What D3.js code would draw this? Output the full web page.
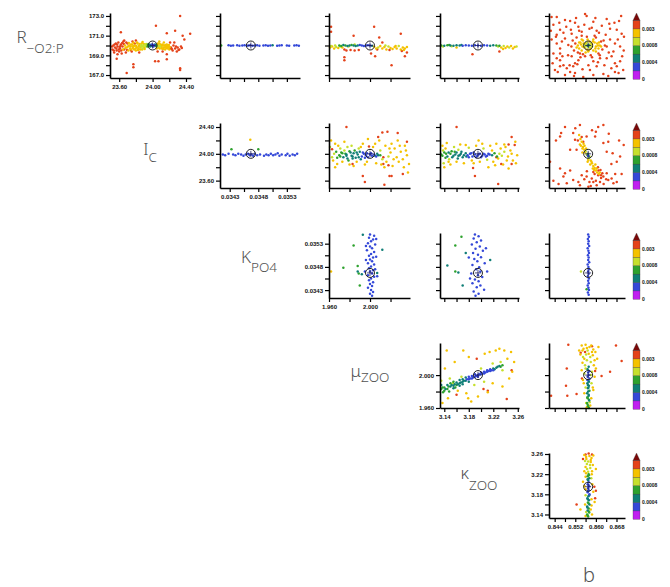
<!DOCTYPE html>
<html>
<head>
<meta charset="utf-8">
<script src="https://cdn.jsdelivr.net/npm/d3@7"></script>
<style>
  body { margin: 0; background: #fff; }
  .tick text { font-family: "Liberation Sans", Arial, sans-serif; font-size: 6px; font-weight: bold; fill: #111; }
  .rowlab { font-family: "Noto Sans", "DejaVu Sans", sans-serif; font-weight: 300; fill: #505050; opacity: 0.99; }
</style>
</head>
<body>
<div id="chart"></div>
<script>
// ---- axis ticks / labels per variable (R, Ic, KPO4, muZOO, kappaZOO, b)
var rTicks = [167, 168, 169, 170, 171, 172, 173];
var rLabels = [167, 169, 171, 173];
var icTicks = [23.6, 23.8, 24.0, 24.2, 24.4];
var icLabels = [23.6, 24.0, 24.4];
var kTicks = [0.0343, 0.03455, 0.0348, 0.03505, 0.0353];
var kLabels = [0.0343, 0.0348, 0.0353];
var muTicks = [1.96, 1.98, 2.00, 2.02];
var muLabels = [1.96, 2.00];
var kapTicks = [3.14, 3.16, 3.18, 3.20, 3.22, 3.24, 3.26];
var kapLabels = [3.14, 3.18, 3.22, 3.26];
var bTicks = [0.844, 0.848, 0.852, 0.856, 0.860, 0.864, 0.868];
var bLabels = [0.844, 0.852, 0.860, 0.868];

var varDomains = [[166.7, 173.3], [23.49, 24.46], [0.03413, 0.03553], [1.96, 2.039], [3.133, 3.262], [0.8418, 0.8713]];
var varFormats = [".1f", ".2f", ".4f", ".3f", ".2f", ".3f"];
var bestValues = [170.0, 24.00, 0.03467, 2.000, 3.195, 0.857];

var labelMain = ["R", "I", "K", "\u03bc", "\u03ba"];
var labelSub = ["\u2212O2:P", "C", "PO4", "ZOO", "ZOO"];
var bottomLabel = "b";

// colour bar classes
var cbThresholds = [0.0002, 0.0004, 0.0006, 0.0008, 0.0015, 0.003, 0.006];
var cbColors = ["#c01ff0", "#3448d8", "#0f7e76", "#2ea22e", "#c6e02c", "#f4c200", "#e4421a", "#7a0808"];
var cbTickValues = [0, 0.0004, 0.0008, 0.003];
var cbTickText = ["0", "0.0004", "0.0008", "0.003"];

// ---- scatter samples: [x, y, value]
// row 1: y = R
var rIc = [
 [23.52,169.6,.004],[23.53,170.0,.004],[23.54,169.3,.004],[23.55,169.8,.004],[23.56,170.2,.004],[23.57,169.5,.004],[23.58,169.9,.004],[23.59,170.3,.004],[23.60,169.4,.004],[23.61,169.7,.004],[23.62,170.1,.004],[23.63,169.2,.004],[23.64,169.9,.004],[23.65,170.4,.004],[23.66,169.6,.004],[23.67,170.0,.002],[23.68,169.3,.004],[23.69,169.8,.002],[23.70,170.2,.004],[23.71,169.5,.002],[23.72,170.0,.002],[23.58,169.1,.004],[23.66,170.5,.004],[23.545,170.1,.004],[23.605,169.85,.004],[23.635,170.25,.004],
 [23.515,169.9,.004],[23.535,169.5,.004],[23.565,169.7,.004],[23.575,170.1,.004],[23.595,169.6,.004],[23.615,169.95,.004],[23.625,169.5,.004],[23.645,169.6,.002],[23.655,170.15,.004],[23.675,169.75,.002],[23.685,170.3,.004],[23.695,169.55,.004],[23.705,169.9,.002],[23.715,170.25,.002],
 [23.73,169.7,.002],[23.74,170.1,.002],[23.75,169.4,.004],[23.76,169.9,.002],[23.77,170.3,.002],[23.78,169.6,.002],[23.79,170.0,.002],[23.80,169.5,.002],[23.81,169.8,.002],[23.82,170.2,.002],[23.83,169.7,.002],[23.84,170.0,.002],[23.85,169.6,.002],[23.86,169.9,.001],[23.87,170.2,.002],[23.88,169.7,.001],[23.89,170.0,.001],[23.90,169.8,.002],[23.91,170.1,.001],[23.92,169.9,.001],[23.93,170.0,.001],[23.76,170.4,.004],[23.84,169.3,.004],[23.80,170.5,.004],[23.88,170.35,.002],[23.74,169.55,.004],
 [23.735,169.9,.002],[23.745,169.6,.002],[23.755,170.1,.002],[23.765,169.75,.002],[23.775,169.95,.002],[23.785,170.2,.004],[23.795,169.7,.002],[23.805,169.95,.002],[23.815,170.3,.002],[23.825,169.55,.002],[23.835,169.9,.002],[23.845,170.15,.002],[23.855,169.8,.002],[23.865,170.05,.001],[23.875,169.6,.002],[23.885,169.9,.001],[23.895,170.15,.002],[23.905,169.65,.002],[23.915,169.95,.001],[23.925,170.15,.001],
 [23.94,169.9,.0007],[23.95,170.0,.0007],[23.96,170.1,.0005],[23.97,169.9,.0005],[23.98,170.0,.0005],[23.99,170.1,.0003],[24.00,170.0,.0003],[24.01,169.9,.0003],[24.02,170.0,.0003],[24.03,170.1,.0005],[24.04,170.0,.0007],[23.965,170.05,.0005],[24.015,170.05,.0003],[23.945,170.1,.0007],[23.985,169.95,.0005],[24.035,169.95,.0007],
 [24.06,170.1,.002],[24.07,169.8,.002],[24.08,170.2,.002],[24.09,169.9,.001],[24.10,170.0,.002],[24.11,169.7,.002],[24.12,170.1,.002],[24.13,169.8,.002],[24.14,170.0,.002],[24.15,169.6,.002],[24.16,169.9,.002],[24.17,170.1,.002],[24.18,169.7,.002],[24.19,169.9,.002],[24.20,169.6,.002],[24.05,169.7,.002],[24.08,170.4,.002],[24.135,170.3,.002],
 [24.055,169.95,.001],[24.065,170.2,.002],[24.075,169.95,.001],[24.085,169.7,.002],[24.095,170.1,.002],[24.105,169.85,.002],[24.115,170.0,.002],[24.125,169.65,.002],[24.145,169.8,.002],[24.155,170.05,.002],[24.165,169.75,.002],[24.175,169.95,.002],[24.185,169.8,.002],[24.195,170.05,.002],[24.205,169.85,.002],[24.215,169.7,.004],
 [24.22,169.8,.004],[24.24,169.5,.004],[24.25,170.0,.004],[24.27,169.7,.004],[24.29,169.4,.004],[24.30,169.8,.004],[24.32,169.6,.004],[24.34,169.9,.004],[24.21,170.3,.004],[24.26,170.3,.004],[24.12,169.4,.004],[24.06,169.4,.004],[24.23,169.65,.004],[24.28,169.9,.004],[24.31,169.55,.004],[24.35,169.75,.004],
 [24.33,173.0,.004],[24.04,172.0,.004],[24.27,171.5,.004],[24.17,171.25,.004],[24.45,171.2,.004],[24.36,171.0,.004],[24.38,170.6,.004],[23.62,171.35,.004],[23.57,168.65,.004],[23.69,167.2,.004],[23.77,168.1,.004],[23.77,167.8,.004],[24.03,168.4,.004],[24.07,168.4,.004],[24.17,169.1,.004],[24.33,167.7,.004],[24.33,167.5,.004],[24.17,168.6,.004]
];
var rK = [
 [0.03415,170.0,.0007],[0.03428,170.02,.0003],[0.03432,169.98,.0003],[0.03436,170.0,.0003],[0.03443,170.02,.0003],[0.03447,169.98,.0003],[0.03452,170.0,.0003],[0.03456,170.02,.0003],[0.03460,169.98,.0003],[0.03463,170.0,.0003],[0.03466,170.02,.0003],[0.03470,169.98,.0003],[0.03474,170.0,.0003],[0.03478,170.02,.0003],[0.03482,169.98,.0003],[0.03489,170.0,.0003],[0.03493,170.02,.0003],[0.03497,169.98,.0003],[0.03501,170.0,.0003],[0.03505,170.02,.0005],[0.03513,169.98,.0003],[0.03517,170.0,.0003],[0.03521,170.02,.0003],[0.03530,170.0,.0003],[0.03534,169.98,.0003],[0.03543,170.0,.0003],[0.03547,170.02,.0003],[0.03551,169.98,.0003]
];
var rMu = [
 [1.961,169.8,.002],[1.963,169.9,.002],[1.965,169.7,.002],[1.967,169.85,.001],[1.969,169.75,.002],[1.971,169.9,.001],[1.973,169.8,.002],[1.962,169.95,.001],[1.966,170.0,.001],
 [1.970,170.0,.0007],[1.972,169.95,.0007],[1.974,170.05,.0005],[1.976,170.0,.0007],[1.978,169.95,.0005],[1.980,170.0,.0005],[1.982,170.05,.0007],[1.984,170.0,.0005],[1.986,169.95,.0005],[1.988,170.0,.0005],[1.990,170.05,.0003],[1.992,170.0,.0003],[1.994,169.95,.0003],[1.996,170.0,.0003],[1.998,170.02,.0003],[2.000,170.0,.0003],[2.002,169.98,.0005],[1.979,169.9,.001],[1.985,170.1,.001],
 [1.977,169.5,.004],[1.981,169.55,.004],[1.985,169.5,.004],[1.989,169.55,.004],[1.975,169.6,.004],
 [2.004,169.9,.002],[2.006,169.7,.002],[2.008,169.8,.001],[2.010,169.95,.002],[2.012,169.7,.002],[2.014,169.85,.002],[2.016,169.6,.002],[2.018,169.9,.001],[2.020,169.75,.002],[2.022,169.65,.002],[2.024,169.85,.002],[2.026,169.7,.002],[2.028,169.95,.001],[2.030,169.6,.002],[2.032,169.8,.002],[2.034,169.7,.002],[2.036,169.85,.002],[2.015,170.0,.001],[2.025,169.95,.002],[2.033,169.55,.002],[2.007,169.6,.004],[2.019,169.55,.004],[2.031,169.45,.004],
 [1.962,171.9,.004],[1.962,171.4,.004],[1.984,171.0,.004],[2.004,171.9,.004],[2.009,170.8,.004],[2.030,171.2,.004],[1.975,168.8,.004],[1.975,168.5,.004],[2.001,169.2,.004],[2.005,168.9,.004],[2.021,168.0,.004],[2.034,168.9,.004],[2.036,169.3,.004],[2.012,170.3,.004]
];
var rKap = [
 [3.135,170.0,.0007],[3.140,169.98,.0005],[3.145,170.02,.0007],[3.150,170.0,.0005],[3.155,169.97,.0005],[3.160,170.02,.0005],[3.165,170.0,.0005],[3.170,169.98,.0003],[3.175,170.02,.0003],[3.180,170.0,.0003],[3.185,169.98,.0003],[3.190,170.02,.0003],[3.195,170.0,.0003],[3.200,169.98,.0003],[3.205,170.02,.0003],[3.210,170.0,.0003],[3.215,169.98,.0005],[3.220,170.02,.0005],[3.225,170.0,.0007],[3.230,169.97,.0007],[3.148,170.05,.0007],[3.168,170.04,.0005],
 [3.138,169.9,.001],[3.152,169.92,.001],[3.160,169.8,.002],[3.228,169.9,.001],[3.233,169.8,.002],[3.237,169.95,.001],[3.240,169.75,.002],[3.243,169.9,.002],[3.246,169.8,.001],[3.249,169.95,.002],[3.252,169.7,.002],[3.255,169.85,.002],[3.258,169.9,.001],[3.236,169.65,.002],
 [3.230,169.4,.004],[3.186,169.1,.004]
];
var rB = [
 [0.8428,172.9,.004],[0.8448,172.9,.004],[0.8558,173.2,.004],[0.8564,173.0,.004],[0.8698,173.0,.004],[0.8480,172.6,.004],[0.8500,172.5,.004],[0.8519,172.3,.004],[0.8590,172.4,.004],[0.8642,172.7,.004],[0.8672,172.3,.004],[0.8435,172.1,.004],[0.8461,171.6,.004],[0.8474,171.3,.004],[0.8532,171.9,.004],[0.8545,171.4,.004],[0.8584,171.8,.004],[0.8603,171.5,.004],[0.8623,172.0,.004],[0.8655,171.7,.004],[0.8681,171.6,.004],[0.8700,171.2,.004],[0.8448,171.1,.004],[0.8506,171.2,.004],[0.8709,170.9,.004],
 [0.8435,169.2,.004],[0.8448,168.7,.004],[0.8461,168.5,.004],[0.8474,168.0,.004],[0.8441,167.5,.004],[0.8487,167.7,.004],[0.8500,167.3,.004],[0.8519,168.2,.004],[0.8532,168.5,.004],[0.8558,168.9,.004],[0.8571,168.0,.004],[0.8590,168.4,.004],[0.8603,167.9,.004],[0.8616,168.7,.004],[0.8642,168.7,.004],[0.8661,168.9,.004],[0.8674,168.2,.004],[0.8681,167.9,.004],[0.8694,168.4,.004],[0.8706,167.5,.004],[0.8674,167.3,.004],[0.8629,167.1,.004],[0.8590,167.0,.004],[0.8551,166.8,.004],[0.8519,167.2,.004],[0.8480,167.0,.004],[0.8461,167.9,.004],[0.8506,168.9,.004],[0.8538,169.2,.004],
 [0.8428,170.6,.004],[0.8448,170.2,.004],[0.8461,169.7,.004],[0.8480,170.7,.004],[0.8493,170.05,.004],[0.8655,170.6,.004],[0.8674,170.2,.004],[0.8694,169.9,.004],[0.8708,169.5,.004],[0.8668,169.4,.004],[0.8642,169.9,.004],[0.8461,169.2,.004],
 [0.8425,171.5,.004],[0.8432,168.2,.004],[0.8445,170.9,.004],[0.8452,167.3,.004],[0.8458,172.3,.004],[0.8468,170.4,.004],[0.8470,168.9,.004],[0.8485,171.9,.004],[0.8492,169.0,.004],[0.8498,168.0,.004],[0.8503,171.6,.004],[0.8512,167.9,.004],[0.8523,172.8,.004],[0.8528,168.1,.004],[0.8535,171.5,.004],[0.8548,167.6,.004],[0.8555,172.1,.004],[0.8575,171.7,.004],[0.8577,167.5,.004],[0.8598,172.8,.004],[0.8608,168.3,.004],[0.8612,171.3,.004],[0.8633,168.0,.004],[0.8638,171.1,.004],[0.8650,169.3,.004],[0.8652,172.2,.004],[0.8660,167.7,.004],[0.8685,170.6,.004],[0.8690,172.5,.004],[0.8702,168.9,.004],[0.8688,167.2,.004],[0.8515,166.9,.004],[0.8648,166.9,.004],
 [0.8510,170.5,.004],[0.8515,169.5,.004],[0.8525,170.8,.004],[0.8530,169.3,.004],[0.8545,171.0,.004],[0.8550,169.1,.004],[0.8565,170.9,.004],[0.8580,169.0,.004],[0.8600,170.8,.004],[0.8610,169.2,.004],[0.8620,170.4,.004],[0.8625,169.6,.004],[0.8635,170.0,.004],[0.8505,169.9,.004],[0.8520,170.2,.004],[0.8630,170.5,.004],[0.8615,169.0,.004],[0.8540,168.8,.004],[0.8595,171.0,.004],[0.8585,168.8,.004],
 [0.8530,170.0,.002],[0.8535,169.7,.002],[0.8540,170.3,.002],[0.8545,169.5,.002],[0.8550,170.5,.002],[0.8555,169.8,.002],[0.8560,170.2,.002],[0.8565,169.6,.002],[0.8575,170.4,.002],[0.8580,169.7,.002],[0.8585,170.1,.002],[0.8590,169.5,.002],[0.8595,170.3,.002],[0.8600,169.9,.002],[0.8605,170.2,.002],[0.8610,169.7,.002],[0.8615,170.0,.002],[0.8545,170.6,.002],[0.8570,169.4,.002],[0.8590,170.6,.002],[0.8525,169.8,.002],[0.8620,169.9,.002],[0.8560,169.3,.002],[0.8600,169.4,.002],
 [0.8535,170.3,.002],[0.8548,169.9,.002],[0.8552,170.2,.002],[0.8568,170.6,.002],[0.8572,169.5,.002],[0.8588,170.4,.002],[0.8598,169.7,.002],[0.8608,170.0,.002],[0.8542,170.1,.002],[0.8612,170.3,.002],
 [0.8555,170.1,.001],[0.8560,169.9,.001],[0.8565,170.3,.001],[0.8575,169.8,.001],[0.8580,170.2,.001],[0.8585,169.9,.001],[0.8562,170.0,.001],[0.8578,170.0,.001],
 [0.8568,170.0,.0007],[0.8572,170.05,.0007],[0.8570,169.95,.0007]
];
// row 2: y = Ic
var icK = [
 [0.03418,23.99,.0003],[0.03422,23.98,.0003],[0.03428,24.00,.0003],[0.03436,23.99,.0003],[0.03440,23.98,.0003],[0.03445,24.00,.0003],[0.03450,23.99,.0003],[0.03454,23.97,.0003],[0.03458,23.99,.0003],[0.03462,24.00,.0003],[0.03465,23.98,.0003],[0.03468,23.99,.0003],[0.03471,23.97,.0003],[0.03474,24.00,.0003],[0.03478,23.98,.0003],[0.03483,23.99,.0003],[0.03490,23.97,.0003],[0.03494,23.99,.0003],[0.03498,23.98,.0003],[0.03502,24.00,.0003],[0.03506,23.98,.0003],[0.03510,23.99,.0003],[0.03514,24.01,.0003],[0.03517,23.97,.0003],[0.03521,23.99,.0003],[0.03528,23.98,.0003],[0.03531,24.00,.0003],[0.03535,23.97,.0003],[0.03540,23.99,.0003],[0.03544,23.98,.0003],[0.03548,24.00,.0003],
 [0.03466,24.21,.002],[0.03433,24.07,.0007],[0.03480,24.07,.0007]
];
var icMu = [
 [1.970,23.98,.0007],[1.972,24.02,.0007],[1.974,23.95,.0005],[1.976,24.00,.0007],[1.978,23.93,.0005],[1.980,24.04,.0007],[1.982,23.97,.0005],[1.984,24.01,.0005],[1.986,23.94,.0005],[1.988,23.99,.0005],[1.990,24.03,.0005],[1.992,23.96,.0003],[1.994,24.00,.0003],[1.996,23.98,.0003],[1.998,23.95,.0003],[2.000,23.99,.0003],[2.002,23.97,.0003],[2.004,23.99,.0003],[2.006,23.96,.0003],[2.008,23.98,.0005],[1.975,24.05,.001],[1.968,23.94,.0007],[1.979,23.90,.0007],[1.985,24.05,.0007],[1.991,23.92,.0005],[1.965,24.00,.001],[1.983,23.96,.0005],[1.977,23.99,.0005],
 [1.971,23.96,.0007],[1.973,24.01,.0007],[1.977,23.97,.0005],[1.981,24.02,.0005],[1.983,23.93,.0005],[1.987,24.02,.0005],[1.989,23.95,.0005],[1.993,24.02,.0003],[1.995,23.94,.0003],[1.997,24.01,.0003],[2.001,24.01,.0003],[2.005,23.97,.0005],[2.007,24.00,.0005],[2.010,23.98,.0007],[1.967,24.03,.0007],
 [1.961,24.10,.001],[1.963,23.95,.001],[1.966,24.15,.002],[1.968,23.85,.002],[1.971,24.08,.001],[1.973,23.88,.002],[1.975,24.18,.002],[1.980,23.84,.002],[1.982,24.12,.001],[1.987,23.88,.002],[1.989,24.08,.001],[1.993,24.15,.002],[1.997,23.88,.002],[2.003,24.10,.002],[2.006,23.86,.002],[2.010,24.05,.001],[2.012,23.92,.001],[2.015,24.12,.002],[2.018,23.96,.001],[2.020,24.02,.002],[2.022,23.82,.002],[2.024,24.08,.002],[2.026,23.95,.002],[2.028,23.88,.002],[2.030,24.03,.002],[2.032,23.92,.002],[2.034,24.12,.002],[2.036,23.98,.002],[2.038,23.85,.002],[2.014,23.80,.002],[1.962,24.20,.002],[2.009,24.20,.002],[1.998,24.22,.002],[2.027,24.20,.002],[2.016,23.88,.002],[2.037,23.72,.002],
 [1.964,23.90,.002],[1.969,24.12,.002],[1.978,24.10,.001],[1.984,23.82,.002],[1.991,24.10,.002],[1.995,23.84,.002],[2.005,24.15,.002],[2.011,23.84,.002],[2.019,24.08,.002],[2.023,23.92,.002],[2.029,24.12,.002],[2.033,23.80,.002],[2.035,24.05,.002],[2.021,24.15,.002],[1.966,23.80,.002],
 [1.977,24.40,.004],[2.012,24.32,.004],[2.017,24.33,.004],[2.027,24.31,.004],[2.008,24.25,.004],[2.036,24.18,.004],[1.999,24.11,.004],[1.983,23.85,.004],[2.013,23.85,.004],[2.019,23.67,.004],[2.021,23.67,.004],[2.032,23.70,.004],[1.993,23.67,.004],[1.995,23.58,.004],[2.014,23.54,.004],[1.963,24.07,.004],[2.013,23.95,.004],[2.018,23.83,.004]
];
var icKap = [
 [3.135,23.99,.0007],[3.140,24.02,.0007],[3.145,23.96,.0005],[3.150,24.00,.0007],[3.155,23.97,.0005],[3.160,24.02,.0005],[3.165,23.98,.0005],[3.170,23.95,.0005],[3.175,24.01,.0005],[3.142,23.94,.0007],[3.152,24.04,.0007],[3.162,23.93,.0005],[3.168,24.03,.0005],[3.138,24.05,.001],[3.148,23.92,.001],[3.158,23.99,.0005],
 [3.137,23.97,.0007],[3.143,24.00,.0007],[3.147,24.02,.0005],[3.153,23.95,.0005],[3.157,24.03,.0007],[3.163,23.97,.0005],[3.167,24.00,.0005],[3.172,23.98,.0005],[3.176,23.96,.0005],
 [3.178,23.98,.0003],[3.182,24.00,.0003],[3.186,23.96,.0003],[3.190,23.99,.0003],[3.194,23.97,.0003],[3.198,24.00,.0003],[3.202,23.97,.0003],[3.206,23.99,.0003],[3.210,23.97,.0003],[3.214,23.99,.0003],[3.188,24.02,.0003],[3.200,23.95,.0003],
 [3.180,23.95,.0003],[3.184,24.01,.0003],[3.192,23.95,.0003],[3.196,23.99,.0003],[3.204,24.00,.0003],[3.208,23.96,.0003],[3.212,24.00,.0003],
 [3.218,23.98,.0005],[3.222,24.01,.0007],[3.226,23.96,.0007],[3.230,24.00,.001],[3.234,23.97,.001],[3.238,24.03,.001],
 [3.137,24.12,.002],[3.139,23.86,.001],[3.144,24.16,.002],[3.150,23.84,.002],[3.156,24.10,.001],[3.160,23.88,.002],[3.166,24.14,.002],[3.172,23.86,.002],[3.180,24.09,.001],[3.185,23.90,.002],[3.192,24.12,.002],[3.198,23.88,.002],[3.204,24.08,.001],[3.210,23.91,.001],[3.215,24.12,.002],[3.220,23.88,.002],[3.225,24.15,.002],[3.228,23.93,.002],[3.232,24.08,.002],[3.236,23.84,.002],[3.240,24.10,.002],[3.244,23.96,.002],[3.248,24.05,.002],[3.252,23.90,.002],[3.256,24.18,.002],[3.259,23.98,.002],[3.140,23.80,.002],[3.245,23.78,.002],[3.212,23.80,.002],[3.196,24.20,.002],
 [3.142,24.08,.002],[3.147,23.88,.002],[3.163,24.06,.001],[3.175,24.13,.002],[3.188,23.86,.002],[3.202,24.15,.002],[3.218,24.05,.002],[3.223,23.83,.002],[3.238,24.14,.002],[3.242,23.90,.002],[3.250,24.00,.002],[3.257,23.86,.002],
 [3.160,24.40,.004],[3.250,24.25,.004],[3.245,24.14,.004],[3.255,24.13,.004],[3.187,23.79,.004],[3.190,23.67,.004],[3.228,23.55,.004],[3.233,23.85,.004],[3.250,23.85,.004],[3.225,23.95,.004]
];
var icB = [
 [0.8538,24.43,.004],[0.8609,24.40,.004],[0.8629,24.43,.004],[0.8600,24.33,.004],[0.8465,24.31,.004],[0.8461,24.26,.004],[0.8512,24.31,.004],[0.8564,24.26,.004],[0.8597,24.26,.004],[0.8629,24.16,.004],[0.8648,24.18,.004],[0.8665,24.01,.004],[0.8681,23.88,.004],[0.8694,23.96,.004],[0.8708,24.13,.004],[0.8642,24.03,.004],[0.8500,24.06,.004],[0.8422,23.88,.004],[0.8461,23.78,.004],[0.8480,23.71,.004],[0.8512,23.61,.004],[0.8532,23.58,.004],[0.8538,23.53,.004],[0.8564,23.66,.004],[0.8584,23.63,.004],[0.8590,23.58,.004],[0.8603,23.53,.004],[0.8616,23.58,.004],[0.8629,23.66,.004],[0.8642,23.71,.004],[0.8648,23.61,.004],[0.8661,23.63,.004],[0.8668,23.56,.004],[0.8681,23.58,.004],[0.8590,23.73,.004],[0.8609,23.68,.004],[0.8525,24.06,.004],[0.8474,23.66,.004],[0.8487,23.56,.004],[0.8571,23.51,.004],[0.8551,24.18,.004],[0.8519,24.21,.004],
 [0.8555,23.62,.004],[0.8575,23.58,.004],[0.8595,23.70,.004],[0.8620,23.64,.004],[0.8600,23.60,.004],[0.8630,23.55,.004],[0.8565,23.74,.004],[0.8610,23.75,.004],[0.8580,23.52,.004],[0.8545,23.68,.004],[0.8640,23.62,.004],[0.8625,23.71,.004],
 [0.8445,24.20,.004],[0.8480,24.40,.004],[0.8520,24.38,.004],[0.8585,24.35,.004],[0.8650,24.30,.004],[0.8690,24.20,.004],[0.8700,23.70,.004],[0.8435,23.60,.004],[0.8455,23.55,.004],[0.8500,23.75,.004],[0.8660,23.85,.004],[0.8675,23.70,.004],
 [0.8535,24.28,.002],[0.8540,24.22,.002],[0.8545,24.18,.002],[0.8538,24.14,.002],[0.8550,24.10,.002],[0.8555,24.06,.002],[0.8548,24.02,.002],[0.8560,24.04,.001],[0.8565,23.99,.001],[0.8572,23.93,.001],[0.8580,23.90,.002],[0.8585,23.86,.002],[0.8590,23.82,.002],[0.8595,23.79,.002],[0.8600,23.75,.002],[0.8605,23.72,.002],[0.8612,23.70,.002],[0.8598,23.84,.002],[0.8588,23.78,.002],[0.8578,23.84,.002],[0.8556,24.12,.002],[0.8545,24.25,.004],[0.8530,24.20,.004],[0.8562,24.08,.002],[0.8575,23.96,.001],[0.8568,23.88,.002],[0.8608,23.80,.004],[0.8618,23.76,.004],[0.8620,23.68,.004],[0.8552,24.15,.002],
 [0.8542,24.12,.002],[0.8558,24.02,.002],[0.8570,23.91,.002],[0.8583,23.88,.002],[0.8593,23.76,.002],[0.8603,23.78,.002],[0.8615,23.72,.002],[0.8548,24.08,.002],
 [0.8568,23.98,.0007],[0.8572,23.96,.0005],[0.8570,24.00,.0007],[0.8570,23.97,.0003]
];
// row 3: y = KPO4
var kMu = [
 [2.000,0.03550,.0003],[2.004,0.03547,.0003],[1.999,0.03543,.0003],[2.003,0.03539,.0003],[2.001,0.03535,.0003],[1.998,0.03531,.0003],[2.005,0.03528,.0003],[2.000,0.03524,.0003],[2.002,0.03520,.0003],[1.997,0.03516,.0003],[2.004,0.03512,.0003],[2.001,0.03508,.0003],[1.999,0.03504,.0003],[2.003,0.03500,.0003],[2.000,0.03496,.0003],[2.002,0.03492,.0003],[1.998,0.03488,.0003],[2.004,0.03485,.0003],[2.001,0.03481,.0003],[1.999,0.03477,.0003],[2.003,0.03473,.0003],[2.000,0.03470,.0003],[2.002,0.03466,.0003],[1.998,0.03462,.0003],[2.004,0.03459,.0003],[2.001,0.03455,.0003],[1.999,0.03451,.0003],[2.003,0.03447,.0003],[2.000,0.03443,.0003],[2.002,0.03439,.0003],[1.998,0.03435,.0003],[2.001,0.03430,.0003],[2.003,0.03426,.0003],[2.000,0.03422,.0003],[2.002,0.03418,.0003],[2.006,0.03502,.0003],[1.996,0.03495,.0003],[2.006,0.03540,.0003],[1.996,0.03525,.0003],[2.007,0.03460,.0003],[1.995,0.03470,.0003],[2.005,0.03475,.0003],
 [1.993,0.03549,.0005],[1.984,0.03526,.0007],[1.974,0.03478,.0007],[1.988,0.03482,.0007],[1.988,0.03470,.0005],[1.989,0.03466,.0007],[1.992,0.03464,.0005],[1.990,0.03440,.0007],[2.012,0.03517,.0005],[2.007,0.03467,.0005],
 [1.962,0.03470,.002]
];
var kKap = [
 [3.190,0.03550,.0003],[3.196,0.03546,.0003],[3.188,0.03541,.0003],[3.200,0.03537,.0003],[3.193,0.03533,.0003],[3.185,0.03528,.0003],[3.198,0.03524,.0003],[3.191,0.03519,.0003],[3.203,0.03515,.0003],[3.187,0.03510,.0003],[3.195,0.03506,.0003],[3.200,0.03501,.0003],[3.189,0.03497,.0003],[3.194,0.03492,.0003],[3.206,0.03488,.0003],[3.186,0.03484,.0003],[3.197,0.03479,.0003],[3.192,0.03475,.0003],[3.199,0.03470,.0003],[3.184,0.03466,.0003],[3.195,0.03462,.0003],[3.202,0.03458,.0003],[3.190,0.03453,.0003],[3.196,0.03449,.0003],[3.186,0.03445,.0003],[3.199,0.03440,.0003],[3.193,0.03436,.0003],[3.205,0.03431,.0003],[3.188,0.03427,.0003],[3.196,0.03422,.0003],[3.191,0.03418,.0003],[3.180,0.03500,.0003],[3.208,0.03520,.0003],[3.182,0.03455,.0003],[3.210,0.03470,.0003],
 [3.158,0.03526,.0007],[3.145,0.03483,.0005],[3.158,0.03470,.0007],[3.163,0.03468,.0005],[3.170,0.03440,.0005],[3.175,0.03510,.0005],[3.215,0.03495,.0005],[3.168,0.03545,.0007]
];
var kB = [
 [0.8570,0.03550,.0003],[0.8573,0.03545,.0003],[0.8569,0.03540,.0003],[0.8572,0.03535,.0003],[0.8570,0.03530,.0003],[0.8574,0.03525,.0003],[0.8568,0.03520,.0003],[0.8571,0.03515,.0003],[0.8573,0.03510,.0003],[0.8569,0.03505,.0003],[0.8572,0.03500,.0003],[0.8570,0.03495,.0003],[0.8574,0.03490,.0003],[0.8568,0.03485,.0003],[0.8571,0.03480,.0003],[0.8573,0.03475,.0003],[0.8570,0.03470,.0003],[0.8572,0.03465,.0003],[0.8569,0.03460,.0003],[0.8573,0.03455,.0003],[0.8570,0.03450,.0003],[0.8572,0.03445,.0003],[0.8568,0.03440,.0003],[0.8571,0.03435,.0003],[0.8573,0.03430,.0003],[0.8569,0.03425,.0003],[0.8572,0.03420,.0003],
 [0.8542,0.03470,.001],[0.8564,0.03432,.0007]
];
// row 4: y = muZOO
var muKap = [
 [3.135,1.983,.0007],[3.135,1.988,.0005],[3.140,1.985,.0007],[3.140,1.981,.0007],[3.145,1.988,.0005],[3.145,1.983,.0007],[3.150,1.986,.0005],[3.150,1.990,.0007],[3.155,1.987,.0005],[3.155,1.992,.0007],[3.155,1.984,.0005],[3.160,1.991,.0005],[3.160,1.988,.0007],[3.165,1.990,.0005],[3.165,1.994,.0005],[3.165,1.987,.0005],[3.170,1.992,.0005],[3.170,1.995,.0005],[3.170,1.989,.0005],[3.175,1.993,.0005],[3.175,1.997,.0005],[3.180,1.995,.0003],[3.180,1.992,.0005],[3.180,1.998,.0003],[3.185,1.996,.0003],[3.185,1.999,.0003],[3.190,1.998,.0003],[3.190,2.001,.0003],[3.195,2.000,.0003],[3.195,1.998,.0003],[3.200,2.001,.0003],[3.200,2.003,.0003],[3.205,2.002,.0003],[3.205,2.004,.0003],[3.210,2.004,.0003],[3.210,2.006,.0003],[3.215,2.005,.0003],[3.215,2.007,.0003],[3.220,2.008,.0005],[3.220,2.006,.0003],[3.225,2.009,.0005],[3.230,2.011,.0005],[3.235,2.012,.0007],[3.138,1.979,.0007],[3.148,1.980,.0007],[3.158,1.985,.0007],
 [3.137,1.985,.0007],[3.142,1.983,.0005],[3.147,1.986,.0007],[3.152,1.988,.0005],[3.157,1.989,.0005],[3.162,1.989,.0005],[3.167,1.991,.0005],[3.172,1.993,.0005],[3.177,1.995,.0003],[3.182,1.996,.0003],[3.187,1.997,.0003],[3.192,1.999,.0003],[3.197,2.001,.0003],[3.202,2.002,.0003],[3.207,2.003,.0003],[3.212,2.005,.0003],[3.217,2.006,.0003],[3.222,2.007,.0005],[3.227,2.010,.0005],[3.232,2.010,.0007],
 [3.144,2.030,.002],[3.171,2.030,.002],[3.157,2.016,.002],[3.141,2.008,.002],[3.180,2.022,.002],[3.206,2.026,.002],[3.214,2.028,.002],[3.224,2.030,.002],[3.230,2.032,.002],[3.238,2.030,.002],[3.249,2.028,.002],[3.243,2.020,.002],[3.254,2.016,.002],[3.232,2.016,.001],[3.219,2.014,.001],[3.235,2.006,.001],[3.251,2.004,.002],[3.246,1.996,.002],[3.235,1.986,.002],[3.219,1.990,.002],[3.205,1.992,.001],[3.189,1.988,.001],[3.176,1.978,.002],[3.162,1.981,.002],[3.146,1.972,.002],[3.137,1.966,.002],[3.179,1.972,.002],[3.195,1.974,.002],[3.211,1.979,.002],[3.184,1.968,.002],[3.154,1.990,.001],[3.149,1.996,.001],[3.168,1.998,.001],[3.135,1.993,.001],[3.200,2.008,.001],
 [3.193,2.020,.004],[3.250,2.006,.004],[3.204,1.983,.004],[3.211,1.981,.004],[3.160,1.976,.004],[3.242,1.971,.004]
];
var muB = [
 [0.8570,1.962,.0007],[0.8566,1.966,.0007],[0.8574,1.969,.0005],[0.8568,1.972,.0007],[0.8572,1.975,.0005],[0.8566,1.978,.0005],[0.8575,1.981,.0007],[0.8569,1.984,.0005],[0.8573,1.987,.0005],[0.8567,1.990,.0005],[0.8571,1.993,.0005],[0.8575,1.996,.0003],[0.8568,1.998,.0003],[0.8572,2.000,.0003],[0.8570,2.003,.0003],[0.8574,2.005,.0003],[0.8568,2.007,.0005],[0.8572,2.010,.0005],[0.8570,1.980,.0005],[0.8573,1.970,.0007],[0.8567,1.994,.0003],
 [0.8568,1.964,.0007],[0.8572,1.976,.0005],[0.8569,1.988,.0005],[0.8573,1.992,.0005],[0.8571,1.985,.0005],[0.8567,1.973,.0007],[0.8573,1.960,.0007],
 [0.8545,2.036,.002],[0.8552,2.032,.002],[0.8560,2.037,.002],[0.8568,2.030,.001],[0.8575,2.034,.002],[0.8582,2.036,.002],[0.8590,2.031,.002],[0.8598,2.028,.002],[0.8540,2.025,.002],[0.8550,2.022,.001],[0.8562,2.025,.001],[0.8578,2.022,.001],[0.8588,2.024,.002],[0.8605,2.020,.002],[0.8548,2.015,.002],[0.8558,2.012,.001],[0.8580,2.016,.001],[0.8592,2.012,.002],[0.8600,2.008,.002],[0.8545,2.006,.002],[0.8555,2.002,.001],[0.8585,2.004,.001],[0.8595,1.998,.002],[0.8550,1.994,.002],[0.8583,1.990,.001],[0.8560,1.985,.001],[0.8590,1.982,.002],[0.8555,1.978,.002],[0.8582,1.972,.002],[0.8562,1.966,.001],[0.8578,1.963,.002],[0.8565,1.961,.002],[0.8576,1.967,.001],[0.8565,2.018,.001],[0.8572,2.026,.002],[0.8535,2.030,.002],[0.8610,2.034,.002],
 [0.8548,2.030,.002],[0.8585,2.028,.002],[0.8565,2.033,.002],[0.8555,2.020,.002],[0.8595,2.018,.002],[0.8560,2.008,.001],[0.8580,2.000,.001],[0.8553,1.990,.002],[0.8588,1.985,.002],
 [0.8493,2.037,.004],[0.8541,2.027,.004],[0.8678,2.036,.004],[0.8700,2.017,.004],[0.8487,2.008,.004],[0.8655,2.004,.004],[0.8622,1.999,.004],[0.8484,1.987,.004],[0.8489,1.975,.004],[0.8426,1.975,.004],[0.8525,1.977,.004],[0.8546,1.996,.004],[0.8597,2.005,.004],[0.8585,2.035,.004],[0.8558,2.028,.004]
];
// row 5: y = kappaZOO
var kapB = [
 [0.8570,3.136,.0007],[0.8566,3.140,.0007],[0.8574,3.144,.0007],[0.8568,3.148,.0005],[0.8572,3.152,.0007],[0.8566,3.156,.0005],[0.8575,3.160,.0005],[0.8569,3.164,.0007],[0.8573,3.168,.0005],[0.8567,3.172,.0005],[0.8571,3.176,.0005],[0.8575,3.180,.0003],[0.8568,3.184,.0003],[0.8572,3.188,.0003],[0.8570,3.192,.0003],[0.8574,3.196,.0003],[0.8568,3.200,.0003],[0.8572,3.204,.0003],[0.8570,3.208,.0005],[0.8574,3.212,.0005],[0.8568,3.216,.0007],[0.8572,3.220,.0007],[0.8570,3.225,.001],[0.8566,3.230,.001],
 [0.8568,3.138,.0007],[0.8573,3.146,.0007],[0.8567,3.154,.0005],[0.8572,3.162,.0007],[0.8569,3.170,.0005],[0.8574,3.178,.0005],[0.8569,3.186,.0003],[0.8572,3.198,.0003],[0.8568,3.210,.0005],[0.8573,3.218,.0007],
 [0.8555,3.258,.002],[0.8562,3.254,.002],[0.8575,3.256,.002],[0.8583,3.252,.002],[0.8590,3.257,.002],[0.8558,3.246,.001],[0.8580,3.244,.002],[0.8565,3.240,.001],[0.8588,3.238,.002],[0.8560,3.234,.002],[0.8578,3.232,.001],[0.8585,3.226,.002],[0.8555,3.226,.002],[0.8560,3.215,.002],[0.8582,3.212,.001],[0.8586,3.200,.002],[0.8556,3.196,.002],[0.8590,3.185,.002],[0.8560,3.178,.001],[0.8583,3.170,.002],[0.8558,3.160,.002],[0.8580,3.150,.002],[0.8562,3.145,.001],[0.8585,3.140,.002],[0.8560,3.137,.002],[0.8595,3.165,.002],[0.8550,3.205,.002],[0.8540,3.150,.002],[0.8600,3.230,.002],
 [0.8563,3.250,.002],[0.8580,3.248,.002],[0.8570,3.245,.001],[0.8577,3.238,.001],[0.8562,3.222,.002],[0.8584,3.220,.002],[0.8560,3.190,.002],[0.8583,3.158,.002],
 [0.8560,3.259,.004],[0.8572,3.261,.004],[0.8585,3.259,.004],[0.8594,3.195,.004],[0.8600,3.187,.004],[0.8525,3.160,.004],[0.8597,3.172,.004],[0.8550,3.250,.004]
];

var panelData = [
  [rIc, rK, rMu, rKap, rB],
  [icK, icMu, icKap, icB],
  [kMu, kKap, kB],
  [muKap, muB],
  [kapB]
];
var varTicks = [rTicks, icTicks, kTicks, muTicks, kapTicks, bTicks];
var varLabels = [rLabels, icLabels, kLabels, muLabels, kapLabels, bLabels];

// ---- layout
var width = 670, height = 587;
var colLeft = [110, 220, 329, 440, 549];
var colWidth = [81, 80, 81, 79, 76];
var rowTop = [13, 123, 233, 343, 453];
var rowH = 65;
var labMainY = [43, 155, 263, 377, 479];
var labSubDy = [10, 7, 9, 5, 11];

var svg = d3.select("#chart").append("svg")
  .attr("width", width)
  .attr("height", height);

var color = d3.scaleThreshold().domain(cbThresholds).range(cbColors);

function isLabel(list, d) {
  return list.some(function(l) { return Math.abs(l - d) < 1e-9; });
}

for (var i = 0; i < 5; i++) {
  for (var j = i; j < 5; j++) {
    var xv = j + 1, yv = i;
    var diag = (i === j);
    var g = svg.append("g").attr("transform", "translate(" + colLeft[j] + "," + rowTop[i] + ")");

    var x = d3.scaleLinear().domain(varDomains[xv]).range([0, colWidth[j]]);
    var y = d3.scaleLinear().domain(varDomains[yv]).range([rowH, 0]);

    var pts = panelData[i][j - i].slice().sort(function(a, b) { return b[2] - a[2]; });
    g.append("g").selectAll("circle")
      .data(pts)
      .enter()
      .append("circle")
      .attr("cx", function(d) { return x(d[0]); })
      .attr("cy", function(d) { return y(d[1]); })
      .attr("r", 1.25)
      .style("fill", function(d) { return color(d[2]); });

    // best-fit marker
    var bx = x(bestValues[xv]), by = y(bestValues[yv]);
    g.append("path")
      .attr("d", "M" + (bx - 3) + "," + by + "H" + (bx + 3) + "M" + bx + "," + (by - 3) + "V" + (by + 3))
      .style("stroke", "#1c1c5a").style("stroke-width", 0.8);
    g.append("circle")
      .attr("cx", bx).attr("cy", by).attr("r", 4.5)
      .style("fill", "none").style("stroke", "#222").style("stroke-width", 1);

    var fx = d3.format(varFormats[xv]), fy = d3.format(varFormats[yv]);
    var xl = varLabels[xv], yl = varLabels[yv];
    var xAxis = d3.axisBottom(x).tickValues(varTicks[xv]).tickSize(4).tickSizeOuter(0).tickPadding(3)
      .tickFormat(function(d) { return diag && isLabel(xl, d) ? fx(d) : ""; });
    var yAxis = d3.axisLeft(y).tickValues(varTicks[yv]).tickSize(4).tickSizeOuter(0).tickPadding(2)
      .tickFormat(function(d) { return diag && isLabel(yl, d) ? fy(d) : ""; });

    var gx = g.append("g").attr("transform", "translate(0," + rowH + ")").call(xAxis);
    var gy = g.append("g").call(yAxis);
    [gx, gy].forEach(function(a) {
      a.select(".domain").style("stroke", "#000").style("stroke-width", 1.6);
      a.selectAll(".tick line").style("stroke", "#000").style("stroke-width", 1.2);
    });
  }

  // row label
  var lab = svg.append("text")
    .attr("class", "rowlab")
    .attr("x", colLeft[i] - 70)
    .attr("y", labMainY[i])
    .attr("text-anchor", "middle");
  lab.append("tspan").style("font-size", "17px").text(labelMain[i]);
  lab.append("tspan").attr("dy", labSubDy[i]).style("font-size", "13.5px").text(labelSub[i]);

  // colour bar
  var cbx = 633, cbw = 7, cbTop = rowTop[i];
  var cb = svg.append("g").attr("class", "colorbar");
  var cbScale = d3.scaleLinear().domain([0, 7]).range([cbTop + 66.3, cbTop + 7.5]);
  cb.selectAll("rect")
    .data(d3.range(7))
    .enter()
    .append("rect")
    .attr("x", cbx)
    .attr("y", function(k) { return cbScale(k + 1); })
    .attr("width", cbw)
    .attr("height", function(k) { return cbScale(k) - cbScale(k + 1); })
    .style("fill", function(k) { return cbColors[k]; })
    .style("stroke", "#333").style("stroke-width", 0.3);
  cb.append("path")
    .attr("d", "M" + cbx + "," + (cbTop + 7.5) + "L" + (cbx + cbw / 2) + "," + cbTop + "L" + (cbx + cbw) + "," + (cbTop + 7.5) + "Z")
    .style("fill", cbColors[7]).style("stroke", "#333").style("stroke-width", 0.3);
  cb.selectAll("text")
    .data(cbTickValues)
    .enter()
    .append("text")
    .attr("x", cbx + cbw + 2)
    .attr("y", function(v) { return cbScale(v === 0 ? 0 : d3.bisectLeft(cbThresholds, v) + 1); })
    .attr("dy", "0.35em")
    .style("font-family", "Liberation Sans, Arial, sans-serif")
    .style("font-size", "5px")
    .style("font-weight", "bold")
    .style("fill", "#111")
    .text(function(v, k) { return cbTickText[k]; });
}

svg.append("text")
  .attr("class", "rowlab")
  .attr("x", colLeft[4] + colWidth[4] / 2 + 2)
  .attr("y", 582)
  .attr("text-anchor", "middle")
  .style("font-size", "20px")
  .text(bottomLabel);
</script>
</body>
</html>
